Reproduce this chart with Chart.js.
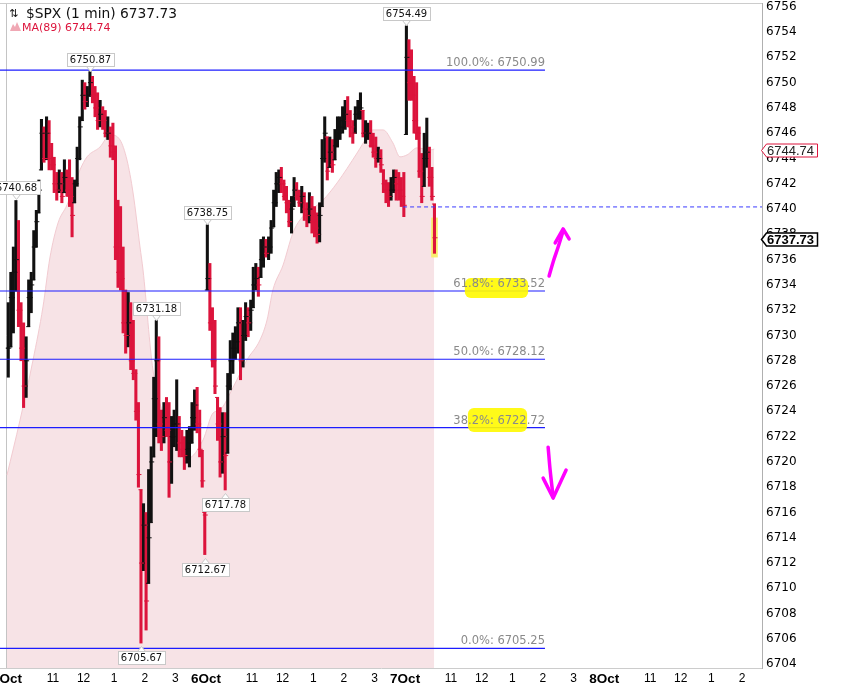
<!DOCTYPE html>
<html>
<head>
<meta charset="utf-8">
<script src="https://cdn.jsdelivr.net/npm/chart.js@4.4.1/dist/chart.umd.min.js"></script>
<style>
  html, body { margin: 0; padding: 0; background: #fff; }
  #wrap { position: relative; width: 855px; height: 690px; overflow: hidden; }
</style>
</head>
<body>
<div id="wrap"><canvas id="myChart" width="855" height="690"></canvas></div>
<script>
// time axis = minutes from 3 Oct 9:30, sessions glued together (390 min each)
var dayStart = [0, 390, 780];

// 5-minute bars
var hi3 = [6732.6, 6735.0, 6737.0, 6740.68, 6739.1, 6732.6, 6731.0, 6729.9, 6734.4, 6735.0,
           6738.3, 6739.9, 6742.3, 6747.1, 6746.5, 6747.3, 6747.0, 6745.2, 6744.1, 6742.9,
           6743.1, 6742.9, 6743.9, 6743.1, 6743.9, 6742.5, 6742.3, 6744.9, 6747.3, 6750.2,
           6750.0, 6749.7, 6750.87, 6750.5, 6749.7, 6749.2, 6748.6, 6748.1, 6747.8, 6747.3,
           6746.5, 6746.8, 6745.0, 6740.7, 6740.2, 6737.0, 6733.6, 6733.4, 6732.6, 6731.2,
           6727.3, 6724.7, 6717.8, 6716.7, 6716.0, 6719.4, 6721.2, 6726.7, 6731.18, 6729.9,
           6724.1, 6724.7, 6725.1, 6724.7, 6723.6, 6724.1, 6726.5, 6723.6, 6722.5, 6722.0,
           6722.5, 6722.8, 6724.7, 6725.7, 6725.9, 6724.1, 6720.9, 6716.0];
var lo3 = [6726.7, 6729.1, 6730.2, 6733.5, 6730.7, 6728.0, 6724.3, 6725.1, 6730.7, 6731.8,
           6734.4, 6737.0, 6739.7, 6743.1, 6743.7, 6743.9, 6743.1, 6743.1, 6741.3, 6740.7,
           6741.3, 6740.5, 6741.3, 6741.0, 6740.2, 6737.8, 6740.5, 6741.8, 6743.9, 6747.0,
           6747.9, 6748.1, 6748.9, 6748.4, 6747.3, 6746.3, 6746.5, 6746.3, 6745.7, 6745.5,
           6744.1, 6743.9, 6736.0, 6733.8, 6733.6, 6730.2, 6728.6, 6729.1, 6727.3, 6726.5,
           6723.3, 6718.0, 6705.67, 6711.4, 6706.7, 6710.4, 6715.2, 6720.4, 6722.0, 6721.5,
           6720.9, 6721.5, 6722.0, 6717.2, 6718.3, 6721.2, 6720.9, 6720.4, 6720.4, 6719.4,
           6719.9, 6719.6, 6721.5, 6722.5, 6722.3, 6720.4, 6718.0, 6712.67];
var cl3 = [6729, 6733, 6735, 6736, 6732, 6729, 6726, 6728, 6733, 6734,
           6737, 6739, 6741.5, 6746, 6744, 6746, 6744, 6743.5, 6742, 6741.5,
           6742, 6741, 6742.5, 6741.5, 6741, 6739.5, 6742, 6744, 6746.5, 6749,
           6748.5, 6749, 6750, 6749, 6748, 6747, 6747.5, 6747, 6746, 6746,
           6745, 6744.5, 6737, 6735, 6734.5, 6731, 6730, 6731, 6728, 6727,
           6724, 6719, 6712, 6715, 6709, 6714, 6720, 6725, 6728, 6723,
           6722, 6723.5, 6722.5, 6720, 6722, 6723, 6723, 6721.5, 6721, 6720.5,
           6721, 6721.5, 6723.5, 6724.5, 6723, 6721, 6718.5, 6715.8];

var hi6 = [6738.75, 6735.7, 6732.2, 6731.2, 6725.1, 6724.3, 6723.9, 6723.9, 6727.0, 6729.6,
           6730.2, 6730.7, 6732.2, 6732.2, 6731.2, 6732.6, 6732.2, 6732.8, 6735.4, 6735.7,
           6735.4, 6737.6, 6737.8, 6737.6, 6737.8, 6739.1, 6741.5, 6742.9, 6743.1, 6743.3,
           6742.3, 6741.8, 6740.7, 6741.0, 6742.5, 6742.1, 6741.5, 6741.8, 6741.3, 6740.5,
           6741.3, 6741.0, 6740.2, 6739.7, 6740.5, 6745.5, 6747.3, 6745.7, 6745.7, 6745.5,
           6746.3, 6747.3, 6747.3, 6748.1, 6748.6, 6748.9, 6747.8, 6747.0, 6748.1, 6748.6,
           6749.2, 6747.8, 6747.0, 6746.8, 6747.0, 6746.0, 6745.7, 6744.9, 6744.7, 6743.1,
           6742.3, 6742.1, 6742.5, 6743.1, 6743.1, 6742.9, 6742.5, 6742.9];
var lo6 = [6733.6, 6730.4, 6727.5, 6725.4, 6721.7, 6718.8, 6719.1, 6717.78, 6720.7, 6725.7,
           6727.0, 6728.1, 6728.6, 6726.5, 6727.5, 6729.6, 6729.9, 6730.4, 6732.2, 6733.6,
           6733.1, 6734.6, 6735.4, 6736.2, 6736.0, 6736.5, 6738.6, 6740.2, 6741.3, 6741.3,
           6740.7, 6739.7, 6738.6, 6738.1, 6740.2, 6740.7, 6740.2, 6739.7, 6739.1, 6738.6,
           6738.9, 6738.1, 6737.8, 6737.3, 6737.4, 6740.2, 6743.7, 6742.3, 6743.3, 6742.9,
           6743.9, 6744.9, 6745.5, 6746.0, 6746.3, 6746.5, 6745.7, 6745.2, 6746.0, 6747.1,
           6747.1, 6745.7, 6745.2, 6745.5, 6744.9, 6744.1, 6743.3, 6743.7, 6742.9, 6741.3,
           6740.5, 6740.2, 6740.7, 6741.3, 6740.7, 6740.7, 6740.2, 6739.4];
var cl6 = [6734.5, 6731, 6728, 6726, 6723, 6720, 6722, 6720.5, 6726, 6728,
           6729, 6729.5, 6731, 6728, 6730, 6731.5, 6731, 6732, 6734, 6734.5,
           6734, 6736, 6737, 6736.5, 6737, 6738.5, 6740.5, 6742, 6742.5, 6742,
           6741, 6740.5, 6739, 6740, 6741.5, 6741, 6740.5, 6741, 6740, 6739.5,
           6740, 6739, 6738.5, 6738, 6739.5, 6744, 6746, 6743, 6744.5, 6743.5,
           6745, 6746, 6746.5, 6747, 6747.5, 6747, 6746.5, 6746, 6747.5, 6748,
           6748, 6746, 6746, 6746, 6745, 6744.5, 6744, 6744, 6743.5, 6742,
           6741.5, 6741, 6741.5, 6742.5, 6742, 6741.5, 6741, 6740.3];

var hi7 = [6754.49, 6753.4, 6752.6, 6750.5, 6750.0, 6746.5, 6744.4, 6746.0, 6747.2, 6744.9, 6743.3, 6740.4];
var lo7 = [6745.9, 6748.6, 6748.6, 6746.0, 6745.5, 6742.5, 6740.5, 6741.8, 6743.3, 6741.8, 6740.7, 6736.5];
var cl7 = [6752, 6750, 6749, 6747, 6746, 6743, 6741, 6744, 6744.5, 6742.5, 6741, 6737.73];

// MA(89) read at these minutes
var maMin = [0, 25.5, 51, 70.5, 84, 100, 117.6, 143, 156.8, 182,
             202, 221.4, 235, 247, 260.6, 266.5, 286, 319, 339, 354.7,
             384, 403.7, 417, 443, 470, 495.8, 509.5, 521, 541, 560,
             574, 619, 646.7, 686, 705.5, 717, 737, 756, 770, 784,
             803.4, 829, 837];
var maVal = [6718.96, 6723.3, 6728.06, 6732.26, 6736.13, 6738.9, 6740.33, 6743.1, 6744.13, 6744.9,
             6745.87, 6745.47, 6743.89, 6741.28, 6737.0, 6735.18, 6727.27, 6722.5, 6720.54, 6720.3,
             6721.73, 6723.87, 6724.1, 6725.9, 6728.06, 6729.65, 6731.23, 6733.6, 6735.58, 6738.1,
             6739.14, 6740.7, 6742.07, 6744.44, 6745.7, 6746.26, 6746.26, 6745.24, 6744.13, 6744.29,
             6744.84, 6744.68, 6744.74];

// fibonacci retracement
var fibPct = ['100.0%', '61.8%', '50.0%', '38.2%', '0.0%'];
var fibVal = [6750.99, 6733.52, 6728.12, 6722.72, 6705.25];
var fibEnd = 1054;

// user drawn dashed level
var dashVal = 6740.17, dashFrom = 776;

// labelled highs / lows
var peakVal = [6740.68, 6750.87, 6731.18, 6705.67, 6712.67, 6738.75, 6717.78, 6754.49];
var peakMin = [17.5, 162.5, 292.5, 262.5, 387.5, 392.5, 427.5, 782.5];
var peakSide = ['up', 'up', 'up', 'down', 'down', 'up', 'down', 'up'];

// hand drawn marks
var upShaftMin = [1062.1, 1070, 1079.8, 1089.6], upShaftVal = [6734.71, 6735.82, 6737.0, 6738.27];
var upHeadMin = [1074, 1089.6, 1101.3], upHeadVal = [6737.32, 6738.43, 6737.64];
var dnShaftMin = [1060.2, 1064.1, 1070], dnShaftVal = [6721.17, 6719.36, 6717.22];
var dnHeadMin = [1050.4, 1070, 1095.4], dnHeadVal = [6718.72, 6717.14, 6719.36];
var marker = [
  {m0: 897, m1: 1021, v0: 6732.97, v1: 6734.55},
  {m0: 903, m1: 1019, v0: 6722.36, v1: 6724.26}
];

// axes
var yTicks = [];
for (var t = 6704; t <= 6756; t += 2) yTicks.push(t);
var xTickMin = [0, 90, 150, 210, 270, 330, 390, 480, 540, 600, 660, 720,
                780, 870, 930, 990, 1050, 1110, 1170, 1260, 1320, 1380, 1440];
var xTickLab = ['3Oct', '11', '12', '1', '2', '3', '6Oct', '11', '12', '1', '2', '3',
                '7Oct', '11', '12', '1', '2', '3', '8Oct', '11', '12', '1', '2'];

var lastPrice = 6737.73, lastMA = 6744.74;

var red = '#dc143c', black = '#111111';

// build bar data (colour = close vs previous close, open tick = previous close)
var sessions = [[hi3, lo3, cl3], [hi6, lo6, cl6], [hi7, lo7, cl7]];
var barData = [], closeData = [], openData = [], barCol = [];
var prevClose = null;
sessions.forEach(function (s, d) {
    s[0].forEach(function (h, j) {
        var m = dayStart[d] + j * 5 + 2.5;
        var c = s[2][j];
        var col = (prevClose !== null && c < prevClose) ? red : black;
        var o = prevClose === null ? c : Math.min(h, Math.max(s[1][j], prevClose));
        barData.push({x: m, y: [s[1][j], h]});
        closeData.push({x: m + 1, y: c});
        openData.push({x: m - 1, y: o});
        barCol.push(col);
        prevClose = c;
    });
});
var lastMin = barData[barData.length - 1].x;

function pts(ms, vs) {
    return ms.map(function (m, i) { return {x: m, y: vs[i]}; });
}
function drawn(ms, vs, tension) {
    return {
        type: 'line', data: pts(ms, vs), borderColor: '#ff00ff', borderWidth: 3.5,
        borderCapStyle: 'round', borderJoinStyle: 'round', pointRadius: 0,
        tension: tension, order: 10
    };
}

var datasets = [
    {
        type: 'line', data: pts(maMin, maVal), fill: 'start',
        backgroundColor: '#f7e3e6', borderColor: '#f2cbd1', borderWidth: 1,
        pointRadius: 0, tension: 0.35, cubicInterpolationMode: 'monotone', order: 100
    },
    {
        type: 'bar', data: [{x: lastMin, y: [6736.2, 6739.3]}],
        backgroundColor: '#f8ef70', barThickness: 6, grouped: false, order: 90
    },
    {
        type: 'bar', data: barData, backgroundColor: barCol,
        barThickness: 2.4, grouped: false, borderWidth: 0, order: 50
    },
    {
        type: 'line', data: closeData, showLine: false, pointStyle: 'line',
        pointRadius: 2.5, pointHoverRadius: 2.5, pointBorderWidth: 1, pointBorderColor: barCol, order: 40
    },
    {
        type: 'line', data: openData, showLine: false, pointStyle: 'line',
        pointRadius: 2, pointHoverRadius: 2, pointBorderWidth: 1, pointBorderColor: barCol, order: 40
    }
];
fibVal.forEach(function (v) {
    datasets.push({
        type: 'line', data: [{x: -20, y: v}, {x: fibEnd, y: v}],
        borderColor: '#1c1cff', borderWidth: 1.2, pointRadius: 0, order: 30
    });
});
datasets.push({
    type: 'line', data: [{x: dashFrom, y: dashVal}, {x: 1500, y: dashVal}],
    borderColor: '#3a3aff', borderWidth: 1, borderDash: [4, 3], pointRadius: 0, order: 30
});
datasets.push(drawn(upShaftMin, upShaftVal, 0.3));
datasets.push(drawn(upHeadMin, upHeadVal, 0));
datasets.push(drawn(dnShaftMin, dnShaftVal, 0.3));
datasets.push(drawn(dnHeadMin, dnHeadVal, 0));

function tag(ctx, x, yy, w, h) {
    ctx.beginPath();
    ctx.moveTo(x, yy);
    ctx.lineTo(x + 5, yy - h / 2);
    ctx.lineTo(x + w, yy - h / 2);
    ctx.lineTo(x + w, yy + h / 2);
    ctx.lineTo(x + 5, yy + h / 2);
    ctx.closePath();
}

var overlay = {
    id: 'overlay',
    beforeDraw: function (chart) {
        var ctx = chart.ctx;
        ctx.save();
        ctx.fillStyle = '#fff';
        ctx.fillRect(0, 0, chart.width, chart.height);
        ctx.restore();
    },
    afterDatasetsDraw: function (chart) {
        var ctx = chart.ctx, a = chart.chartArea;
        var xs = chart.scales.x, ys = chart.scales.y;
        ctx.save();

        // top border
        ctx.strokeStyle = '#cccccc';
        ctx.lineWidth = 1;
        ctx.beginPath();
        ctx.moveTo(a.left, a.top + 0.5);
        ctx.lineTo(a.right, a.top + 0.5);
        ctx.stroke();

        // yellow marker
        ctx.fillStyle = 'rgba(255, 250, 0, 0.9)';
        marker.forEach(function (r) {
            var x0 = xs.getPixelForValue(r.m0), x1 = xs.getPixelForValue(r.m1);
            var y0 = ys.getPixelForValue(r.v1), y1 = ys.getPixelForValue(r.v0);
            ctx.beginPath();
            ctx.roundRect(x0, y0, x1 - x0, y1 - y0, 6);
            ctx.fill();
        });

        // fib labels
        ctx.font = '11.5px "DejaVu Sans"';
        ctx.fillStyle = '#8a8a8a';
        ctx.textAlign = 'right';
        ctx.textBaseline = 'alphabetic';
        fibVal.forEach(function (v, i) {
            ctx.fillText(fibPct[i] + ': ' + v.toFixed(2),
                xs.getPixelForValue(fibEnd), ys.getPixelForValue(v) - 4);
        });

        // high / low labels
        ctx.font = '10px "DejaVu Sans"';
        ctx.textAlign = 'center';
        ctx.textBaseline = 'middle';
        peakVal.forEach(function (v, i) {
            var px = Math.round(xs.getPixelForValue(peakMin[i])) + 0.5;
            var py = ys.getPixelForValue(v);
            var txt = v.toFixed(2);
            var w = Math.round(ctx.measureText(txt).width) + 6, h = 13;
            var up = peakSide[i] === 'up';
            var top = Math.round(up ? py - 6 - h : py + 8) + 0.5;
            var left = Math.round(px - w / 2) + 0.5;
            ctx.fillStyle = '#fff';
            ctx.strokeStyle = '#c8c8c8';
            ctx.lineWidth = 1;
            ctx.beginPath();
            if (up) {
                ctx.moveTo(px - 4, top + h); ctx.lineTo(px, top + h + 5); ctx.lineTo(px + 4, top + h);
            } else {
                ctx.moveTo(px - 4, top); ctx.lineTo(px, top - 5); ctx.lineTo(px + 4, top);
            }
            ctx.fill();
            ctx.stroke();
            ctx.fillRect(left, top, w, h);
            ctx.strokeRect(left, top, w, h);
            ctx.fillStyle = '#111';
            ctx.fillText(txt, px, top + h / 2 + 0.5);
        });

        // legend
        ctx.textAlign = 'left';
        ctx.textBaseline = 'alphabetic';
        ctx.fillStyle = '#111';
        ctx.font = '11px "DejaVu Sans"';
        ctx.fillText('\u21C5', 9, 17);
        ctx.font = '13.8px "DejaVu Sans"';
        ctx.fillText('$SPX (1 min) ' + lastPrice.toFixed(2), 26, 18);
        ctx.fillStyle = '#f0a8b4';
        ctx.beginPath();
        ctx.moveTo(10, 31); ctx.lineTo(13, 24); ctx.lineTo(15, 27); ctx.lineTo(17, 22);
        ctx.lineTo(21, 31); ctx.closePath();
        ctx.fill();
        ctx.fillStyle = red;
        ctx.font = '11px "DejaVu Sans"';
        ctx.fillText('MA(89) ' + lastMA.toFixed(2), 22, 31);
        ctx.restore();
    },
    afterDraw: function (chart) {
        var ctx = chart.ctx, a = chart.chartArea, ys = chart.scales.y;
        ctx.save();
        ctx.textAlign = 'left';
        ctx.textBaseline = 'middle';

        var yMA = Math.round(ys.getPixelForValue(lastMA)) + 1.5;
        tag(ctx, a.right - 0.5, yMA, 56, 13);
        ctx.fillStyle = '#fff';
        ctx.fill();
        ctx.strokeStyle = red;
        ctx.lineWidth = 1;
        ctx.stroke();
        ctx.fillStyle = '#222';
        ctx.font = '13px "Liberation Sans"';
        ctx.fillText(lastMA.toFixed(2), a.right + 5, yMA + 0.5);

        var yP = Math.round(ys.getPixelForValue(lastPrice)) + 1.5;
        tag(ctx, a.right - 0.5, yP, 56, 13);
        ctx.fillStyle = '#fff';
        ctx.fill();
        ctx.strokeStyle = '#000';
        ctx.lineWidth = 1.5;
        ctx.stroke();
        ctx.fillStyle = '#000';
        ctx.font = 'bold 13px "Liberation Sans"';
        ctx.fillText(lastPrice.toFixed(2), a.right + 5, yP + 0.5);
        ctx.restore();
    }
};

var ctx = document.getElementById('myChart').getContext('2d');

chart = new Chart(ctx, {
    type: 'line',
    data: {datasets: datasets},
    options: {
        responsive: false,
        animation: false,
        devicePixelRatio: 1,
        events: [],
        layout: {autoPadding: false, padding: {top: 3, left: 0, right: 0, bottom: 0}},
        plugins: {legend: {display: false}, tooltip: {enabled: false}},
        scales: {
            x: {
                type: 'linear', min: -13.7, max: 1479.2, offset: false,
                afterBuildTicks: function (s) {
                    s.ticks = xTickMin.map(function (v) { return {value: v}; });
                },
                afterFit: function (s) { s.height = 22; s.paddingLeft = 0; s.paddingRight = 0; },
                grid: {
                    offset: false, drawTicks: false,
                    color: function (c) { return c.tick && c.tick.value === 0 ? '#c4c4c4' : 'rgba(0,0,0,0)'; }
                },
                border: {display: true, color: '#cccccc'},
                ticks: {
                    autoSkip: false, maxRotation: 0, minRotation: 0, padding: 3, color: '#000',
                    font: function (c) {
                        var bold = c.tick && xTickLab[xTickMin.indexOf(c.tick.value)].indexOf('Oct') > 0;
                        return bold ? {family: 'Liberation Sans', size: 13.5, weight: 'bold'}
                                    : {family: 'Liberation Sans', size: 12};
                    },
                    callback: function (v) { return xTickLab[xTickMin.indexOf(v)]; }
                }
            },
            y: {
                type: 'linear', position: 'right', min: 6703.7, max: 6756.3, beginAtZero: false,
                afterBuildTicks: function (s) {
                    s.ticks = yTicks.map(function (v) { return {value: v}; });
                },
                afterFit: function (s) { s.width = 93; s.paddingTop = 0; s.paddingBottom = 0; },
                grid: {display: false, drawTicks: false},
                border: {display: true, color: '#b0b0b0', dash: [1, 1]},
                ticks: {
                    padding: 4, color: '#000',
                    font: {family: 'DejaVu Sans', size: 12},
                    callback: function (v) { return String(v); }
                }
            }
        }
    },
    plugins: [overlay]
});
</script>
</body>
</html>
